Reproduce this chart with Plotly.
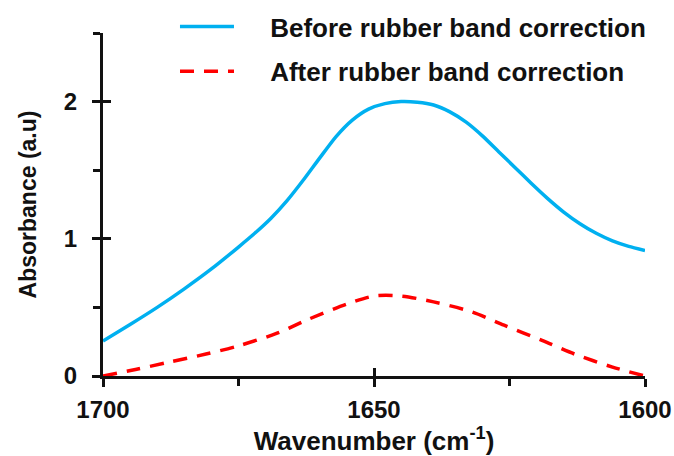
import plotly.graph_objects as go

# Data
wavenumber_before = [1700, 1695, 1690, 1685, 1680, 1675, 1672, 1669, 1666, 1663, 1660, 1657,
                     1654, 1651, 1648, 1645, 1642, 1639, 1636, 1633, 1630, 1627, 1624, 1621,
                     1618, 1615, 1612, 1609, 1606, 1603, 1600]
absorbance_before = [0.255, 0.375, 0.50, 0.635, 0.78, 0.94, 1.04, 1.15, 1.28, 1.43, 1.59, 1.745,
                     1.865, 1.945, 1.985, 2.00, 1.995, 1.975, 1.925, 1.85, 1.75, 1.635, 1.52, 1.405,
                     1.295, 1.195, 1.11, 1.04, 0.985, 0.945, 0.915]

wavenumber_after = [1700, 1694, 1688, 1681, 1675, 1668, 1662, 1655, 1650, 1645, 1639, 1632,
                    1626, 1619, 1613, 1606, 1600]
absorbance_after = [0.0, 0.047, 0.10, 0.16, 0.22, 0.31, 0.415, 0.524, 0.583, 0.583, 0.54, 0.468,
                    0.37, 0.26, 0.16, 0.065, 0.0]

series_names = ["Before rubber band correction", "After rubber band correction"]
x_ticks = [1700, 1650, 1600]
y_ticks = [0, 1, 2]

FONT = "Liberation Sans, Arial, sans-serif"
INK = "#111111"
PAD = "\u2003\u2009"  # gap between legend sample and legend text

fig = go.Figure()
fig.add_trace(go.Scatter(
    x=wavenumber_before, y=absorbance_before, mode="lines", name=PAD + series_names[0],
    line=dict(color="#00B0F0", width=3.5, shape="spline", smoothing=0.6),
    legendgroup="a"))
fig.add_trace(go.Scatter(
    x=wavenumber_after, y=absorbance_after, mode="lines", name=PAD + series_names[1],
    line=dict(color="#FF0000", width=3.5, dash="14px,10px", shape="spline", smoothing=0.8),
    legendgroup="b"))
# helper trace so the inner (crossing) tick axes exist
fig.add_trace(go.Scatter(x=[None], y=[None], xaxis="x2", yaxis="y2",
                         showlegend=False, hoverinfo="skip"))

axis_common = dict(showgrid=False, zeroline=False, showline=True, linecolor=INK,
                   linewidth=3, ticks="outside", tickcolor=INK, tickwidth=3, ticklen=8,
                   automargin=False,
                   tickfont=dict(family=FONT, size=24, color=INK, weight="bold"))

fig.update_layout(
    width=674, height=456,
    margin=dict(l=103, r=29, t=33, b=80, autoexpand=False),
    plot_bgcolor="white", paper_bgcolor="white",
    font=dict(family=FONT, size=24, color=INK, weight="bold"),
    xaxis=dict(range=[1700, 1600], tickvals=x_ticks, ticklabelstandoff=2,
               minor=dict(dtick=25, tick0=1600, ticks="outside", ticklen=7, tickwidth=2.5,
                          tickcolor=INK),
               title=dict(text="Wavenumber (cm<sup>-1</sup>)", standoff=8,
                          font=dict(family=FONT, size=26, color=INK, weight="bold")),
               **axis_common),
    yaxis=dict(range=[0, 2.5], tickvals=y_ticks, ticklabelstandoff=10,
               minor=dict(dtick=0.5, tick0=0, ticks="outside", ticklen=7, tickwidth=2.5,
                          tickcolor=INK),
               title=dict(text="Absorbance (a.u)", standoff=21,
                          font=dict(family=FONT, size=23, color=INK, weight="bold")),
               **axis_common),
    xaxis2=dict(overlaying="x", anchor="y2", side="bottom", range=[1700, 1600],
                tickvals=x_ticks, ticks="inside", ticklen=8, tickwidth=3, tickcolor=INK,
                showticklabels=False, showline=False, showgrid=False, zeroline=False,
                automargin=False),
    yaxis2=dict(overlaying="y", anchor="x2", side="left", range=[0, 2.5],
                tickvals=y_ticks, ticks="inside", ticklen=8, tickwidth=3, tickcolor=INK,
                showticklabels=False, showline=False, showgrid=False, zeroline=False,
                automargin=False),
    legend=dict(x=0.1328, y=1.087, xanchor="left", yanchor="top",
                bgcolor="rgba(0,0,0,0)", tracegroupgap=8, traceorder="grouped",
                itemwidth=54,
                font=dict(family=FONT, size=26, color=INK, weight="bold")),
    showlegend=True,
)

fig.write_html("out.html")
